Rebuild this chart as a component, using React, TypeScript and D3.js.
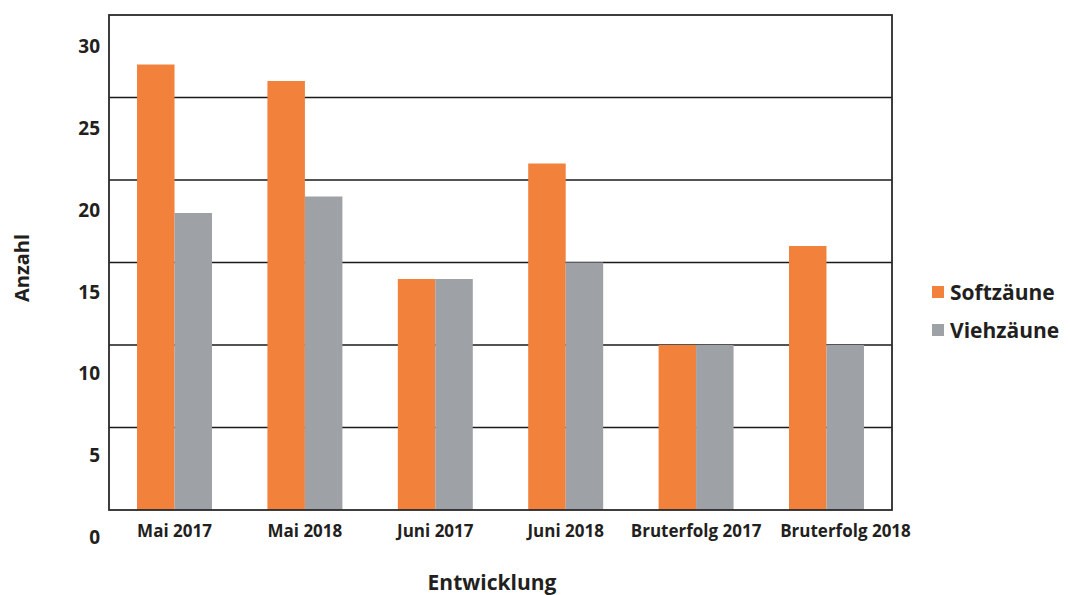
import { useMemo } from "react";
import * as d3 from "d3";

const categories = [
  "Mai 2017",
  "Mai 2018",
  "Juni 2017",
  "Juni 2018",
  "Bruterfolg 2017",
  "Bruterfolg 2018",
];
const seriesNames = ["Softzäune", "Viehzäune"];
const softValues = [27, 26, 14, 21, 10, 16];
const viehValues = [18, 19, 14, 15, 10, 10];
const yTickLabels = [0, 5, 10, 15, 20, 25, 30];
const gridValues = [5, 10, 15, 20, 25];
const colors = ["#f2813b", "#9ea1a5"];

const WIDTH = 1070;
const HEIGHT = 595;
const FONT = "'Open Sans', 'DejaVu Sans', sans-serif";
const TEXT = "#231f20";

export default function App() {
  const plot = { left: 109, right: 892, top: 15, bottom: 510 };

  // X軸
  const xScale = useMemo(
    () =>
      d3
        .scaleBand<string>()
        .domain(categories)
        .range([plot.left, plot.right])
        .paddingInner(0.425)
        .paddingOuter(0.215),
    []
  );
  const xSub = useMemo(
    () =>
      d3
        .scaleBand<string>()
        .domain(seriesNames)
        .range([0, xScale.bandwidth()]),
    [xScale]
  );

  // Y軸
  const yScale = useMemo(
    () => d3.scaleLinear().domain([0, 30]).range([plot.bottom, plot.top]),
    []
  );
  // the tick labels in the picture sit lower than the grid
  const labelScale = useMemo(
    () => d3.scaleLinear().domain([0, 30]).range([537, 46]),
    []
  );

  const bars = useMemo(() => {
    const values = [softValues, viehValues];
    return categories.flatMap((cat, i) =>
      seriesNames.map((s, j) => ({
        key: `${cat}-${s}`,
        x: (xScale(cat) ?? 0) + (xSub(s) ?? 0),
        y: yScale(values[j][i]),
        w: xSub.bandwidth(),
        h: yScale(0) - yScale(values[j][i]),
        fill: colors[j],
      }))
    );
  }, [xScale, xSub, yScale]);

  return (
    <svg
      width={WIDTH}
      height={HEIGHT}
      viewBox={`0 0 ${WIDTH} ${HEIGHT}`}
      style={{ position: "absolute", left: 0, top: 0, background: "#fff" }}
    >
      {/* grid */}
      {gridValues.map((v) => (
        <line
          key={v}
          x1={plot.left}
          x2={plot.right}
          y1={yScale(v)}
          y2={yScale(v)}
          stroke="#1a1a1a"
          strokeWidth={1.6}
        />
      ))}

      {/* bars */}
      {bars.map((b) => (
        <rect key={b.key} x={b.x} y={b.y} width={b.w} height={b.h} fill={b.fill} />
      ))}

      {/* frame */}
      <rect
        x={plot.left}
        y={plot.top}
        width={plot.right - plot.left}
        height={plot.bottom - plot.top}
        fill="none"
        stroke="#2a2a2a"
        strokeWidth={1.8}
      />

      {/* y tick labels */}
      {yTickLabels.map((v) => (
        <text
          key={v}
          x={100}
          y={labelScale(v)}
          textAnchor="end"
          dominantBaseline="central"
          fontFamily={FONT}
          fontWeight={700}
          fontSize={19}
          fill={TEXT}
        >
          {v}
        </text>
      ))}

      {/* x labels (last one is pushed right in the original so it doesn't collide) */}
      {categories.map((c, i) => (
        <text
          key={c}
          x={(xScale(c) ?? 0) + xScale.bandwidth() / 2}
          dx={i === categories.length - 1 ? 19 : 0}
          y={530}
          textAnchor="middle"
          dominantBaseline="central"
          fontFamily={FONT}
          fontWeight={700}
          fontSize={17}
          fill={TEXT}
        >
          {c}
        </text>
      ))}

      {/* axis titles */}
      <text
        x={492}
        y={582}
        textAnchor="middle"
        dominantBaseline="central"
        fontFamily={FONT}
        fontWeight={700}
        fontSize={21}
        fill={TEXT}
      >
        Entwicklung
      </text>
      <text
        transform="translate(21,268) rotate(-90)"
        textAnchor="middle"
        dominantBaseline="central"
        fontFamily={FONT}
        fontWeight={700}
        fontSize={20}
        fill={TEXT}
      >
        Anzahl
      </text>

      {/* legend */}
      {seriesNames.map((s, i) => (
        <g key={s} transform={`translate(932,${292 + i * 38})`}>
          <rect x={0} y={-6} width={12} height={12} fill={colors[i]} />
          <text
            x={18}
            y={0}
            dominantBaseline="central"
            fontFamily={FONT}
            fontWeight={700}
            fontSize={21}
            fill={TEXT}
          >
            {s}
          </text>
        </g>
      ))}
    </svg>
  );
}
